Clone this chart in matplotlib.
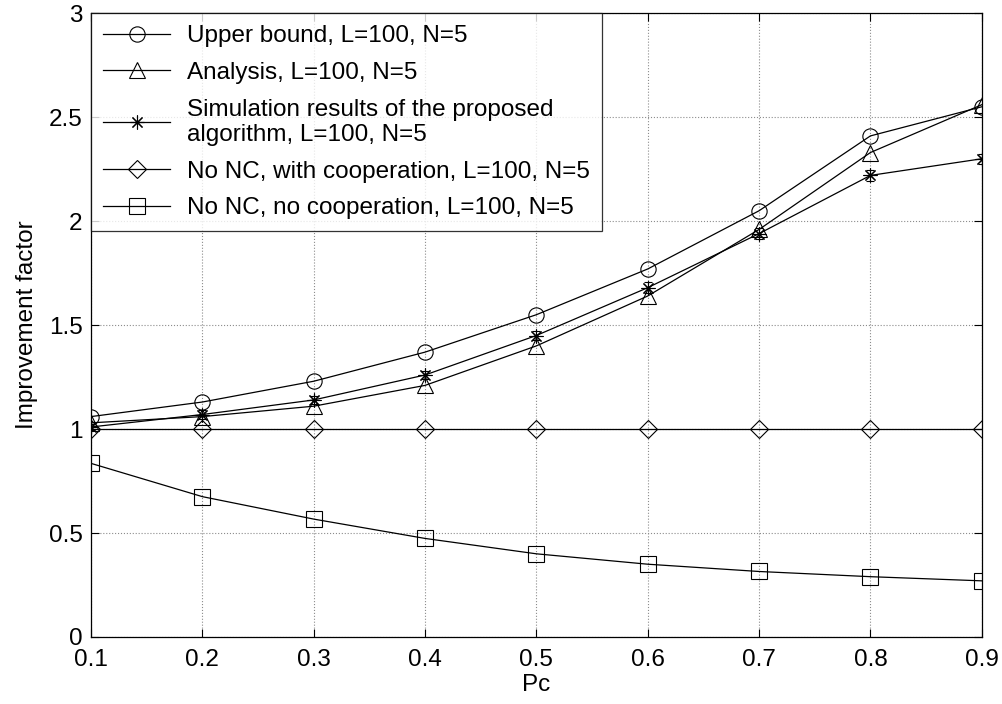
import numpy as np
import matplotlib
matplotlib.use("Agg")
from matplotlib import pyplot as plt
from matplotlib.lines import Line2D

plt.rcParams['font.family'] = ['Liberation Sans', 'DejaVu Sans']

#%% data
pc = [0.1, 0.2, 0.3, 0.4, 0.5, 0.6, 0.7, 0.8, 0.9]
upper_bound = [1.06, 1.13, 1.23, 1.37, 1.55, 1.77, 2.05, 2.41, 2.55]
analysis = [1.03, 1.06, 1.11, 1.21, 1.40, 1.64, 1.96, 2.33, 2.56]
simulation = [1.01, 1.07, 1.14, 1.26, 1.45, 1.68, 1.94, 2.22, 2.30]
sim_err = [0.015, 0.02, 0.02, 0.02, 0.02, 0.025, 0.025, 0.025, 0.025]
nonc_coop = [1.0, 1.0, 1.0, 1.0, 1.0, 1.0, 1.0, 1.0, 1.0]
nonc_nocoop = [0.835, 0.675, 0.567, 0.474, 0.40, 0.35, 0.315, 0.29, 0.27]

labels = ["Upper bound, L=100, N=5",
          "Analysis, L=100, N=5",
          "Simulation results of the proposed\nalgorithm, L=100, N=5",
          "No NC, with cooperation, L=100, N=5",
          "No NC, no cooperation, L=100, N=5"]

fs = 17.5

#%% plot
fig = plt.figure(figsize=(10.02, 7.04), dpi=100)
ax = fig.add_axes([0.0908, 0.0952, 0.889, 0.886])

mk = dict(color='k', lw=0.9, markersize=11, markerfacecolor='none',
          markeredgecolor='k', markeredgewidth=0.8)
asterisk = (8, 2, 0)

h_ub, = ax.plot(pc, upper_bound, marker='o', **mk)
h_an, = ax.plot(pc, analysis, marker='^', **mk)
ax.errorbar(pc, simulation, yerr=sim_err, fmt='-', marker=asterisk,
            color='k', lw=0.9, markersize=10, markeredgewidth=0.8,
            elinewidth=0.7, capsize=3)
h_nc, = ax.plot(pc, nonc_coop, marker='D', **dict(mk, markersize=9))
h_nn, = ax.plot(pc, nonc_nocoop, marker='s', **mk)
# legend proxy for the simulation curve (no vertical error bar)
h_sim = Line2D([], [], color='k', lw=0.9, marker=asterisk, markersize=10,
               markeredgewidth=0.8)

ax.set_xlim(0.1, 0.9)
ax.set_ylim(0, 3)
ax.set_xticks(pc)
ax.set_xticklabels([f"{v:g}" for v in pc])
ax.set_yticks([0, 0.5, 1, 1.5, 2, 2.5, 3])
ax.set_yticklabels(["0", "0.5", "1", "1.5", "2", "2.5", "3"])
ax.tick_params(direction='in', top=True, right=True, labelsize=fs,
               length=6, width=0.8)
ax.tick_params(axis='x', pad=9)
ax.tick_params(axis='y', pad=6)
ax.grid(True, color='#8c8c8c', linestyle=':', linewidth=0.8)
for s in ax.spines.values():
    s.set_linewidth(0.9)

ax.set_xlabel("Pc", fontsize=fs, labelpad=2)
ax.set_ylabel("Improvement factor", fontsize=fs, labelpad=8)

leg = ax.legend([h_ub, h_an, h_sim, h_nc, h_nn], labels,
                loc='upper left', fontsize=fs, handlelength=2.75,
                frameon=True, fancybox=False, borderaxespad=0,
                labelspacing=0.6, handletextpad=0.7, borderpad=0.5)
leg.get_frame().set_edgecolor('k')
leg.get_frame().set_linewidth(0.9)

fig.savefig("out.png", dpi=100)
